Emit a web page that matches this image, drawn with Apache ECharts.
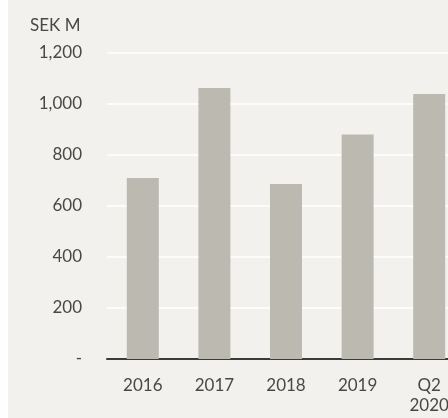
<!DOCTYPE html>
<html><head><meta charset="utf-8">
<script src="https://cdn.jsdelivr.net/npm/echarts@6/dist/echarts.min.js"></script>
<style>
html,body{margin:0;padding:0;background:#ffffff;width:448px;height:418px;overflow:hidden;position:relative}
#c{position:absolute;left:8px;top:0;width:457px;height:418px;background:#f2f1ed}
</style></head><body>
<div id="c"></div>
<script>
const categories = ['2016','2017','2018','2019','Q2\n2020'];
const values = [710, 1063, 686, 880, 1039];
const yTicks = {min:0, max:1200, interval:200};
const unitLabel = 'SEK M';

const chart = echarts.init(document.getElementById('c'), null, {renderer:'canvas'});
const font = 'Lato, "Open Sans", sans-serif';
chart.setOption({
  animation:false,
  backgroundColor:'#f2f1ed',
  title:{text:unitLabel,left:17,top:12,textStyle:{fontFamily:font,fontSize:17,fontWeight:'normal',color:'#4a4845'}},
  grid:{left:99,right:0,top:53,bottom:59},
  xAxis:{type:'category',data:categories,
    axisLine:{show:true,lineStyle:{color:'#3d3b37',width:2}},
    axisTick:{show:false},
    axisLabel:{fontFamily:font,fontSize:17,color:'#4a4845',margin:17,lineHeight:20}},
  yAxis:{type:'value',min:yTicks.min,max:yTicks.max,interval:yTicks.interval,
    axisLine:{show:false},axisTick:{show:false},
    splitLine:{lineStyle:{color:'#ffffff',width:1.5}},
    axisLabel:{fontFamily:font,fontSize:17,color:'#4a4845',margin:25,
      formatter:v=>v===0?'-':v.toLocaleString('en-US')}},
  series:[{type:'bar',data:values,barWidth:32,itemStyle:{color:'#bcb9b1'}}]
});
</script></body></html>
